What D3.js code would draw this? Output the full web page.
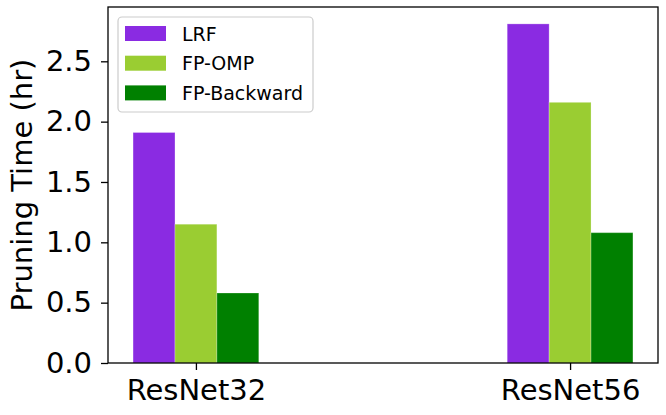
<!DOCTYPE html>
<html>
<head>
<script src="https://d3js.org/d3.v7.min.js"></script>
<style>
  body { margin: 0; background: #fff; }
  text { font-family: "DejaVu Sans", sans-serif; fill: #000; }
</style>
</head>
<body>
<svg id="chart" width="666" height="415"></svg>
<script>
// data
var models = ["ResNet32", "ResNet56"];
var methods = ["LRF", "FP-OMP", "FP-Backward"];
var lrf = [1.91, 2.81];
var fpOmp = [1.15, 2.16];
var fpBackward = [0.58, 1.08];
var yTicks = [0.0, 0.5, 1.0, 1.5, 2.0, 2.5];
var colors = ["#8a2be2", "#9acd32", "#008000"];

var series = [lrf, fpOmp, fpBackward];

var svg = d3.select("#chart");
var plotL = 108, plotR = 658, plotT = 7, plotB = 363;
var barW = 0.112;

var x = d3.scaleLinear().domain([-0.235, 1.235]).range([plotL, plotR]);
var y = d3.scaleLinear().domain([0, 2.95]).range([plotB, plotT]);

// bars
series.forEach(function(vals, s) {
    svg.append("g").selectAll("rect").data(vals).enter().append("rect")
        .attr("x", (d, i) => x(i + (s - 1.5) * barW))
        .attr("y", d => y(d))
        .attr("width", x(barW) - x(0))
        .attr("height", d => y(0) - y(d))
        .attr("fill", colors[s])
        .attr("stroke", "#fff")
        .attr("stroke-opacity", 0.25)
        .attr("stroke-width", 1);
});

// axes
var yAxis = d3.axisLeft(y).tickValues(yTicks).tickFormat(d3.format(".1f")).tickSize(7).tickPadding(9);
var gy = svg.append("g").attr("transform", "translate(" + plotL + ",0)").call(yAxis);
var xAxis = d3.axisBottom(x).tickValues([0, 1]).tickFormat(i => models[i]).tickSize(7).tickPadding(9);
var gx = svg.append("g").attr("transform", "translate(0," + plotB + ")").call(xAxis);
[gy, gx].forEach(function(g) {
    g.select(".domain").remove();
    g.selectAll("line").attr("stroke", "#000").attr("stroke-width", 1.3);
    g.selectAll("text").style("font-size", "29px").attr("fill", "#000");
});

// frame
svg.append("rect")
    .attr("x", plotL).attr("y", plotT)
    .attr("width", plotR - plotL).attr("height", plotB - plotT)
    .attr("fill", "none").attr("stroke", "#000").attr("stroke-width", 1.3);

// y label
svg.append("text")
    .attr("transform", "translate(32," + ((plotT + plotB) / 2) + ") rotate(-90)")
    .attr("text-anchor", "middle")
    .style("font-size", "29px")
    .text("Pruning Time (hr)");

// legend
var lg = svg.append("g");
lg.append("rect")
    .attr("x", 118).attr("y", 17).attr("width", 195).attr("height", 95)
    .attr("rx", 4).attr("fill", "#fff").attr("fill-opacity", 0.8)
    .attr("stroke", "#ccc").attr("stroke-width", 1.2);
methods.forEach(function(m, i) {
    lg.append("rect")
        .attr("x", 125).attr("y", 26 + i * 29.7)
        .attr("width", 41).attr("height", 15)
        .attr("fill", colors[i]);
    lg.append("text")
        .attr("x", 182).attr("y", 40.5 + i * 29.7)
        .style("font-size", "19px")
        .text(m);
});
</script>
</body>
</html>
